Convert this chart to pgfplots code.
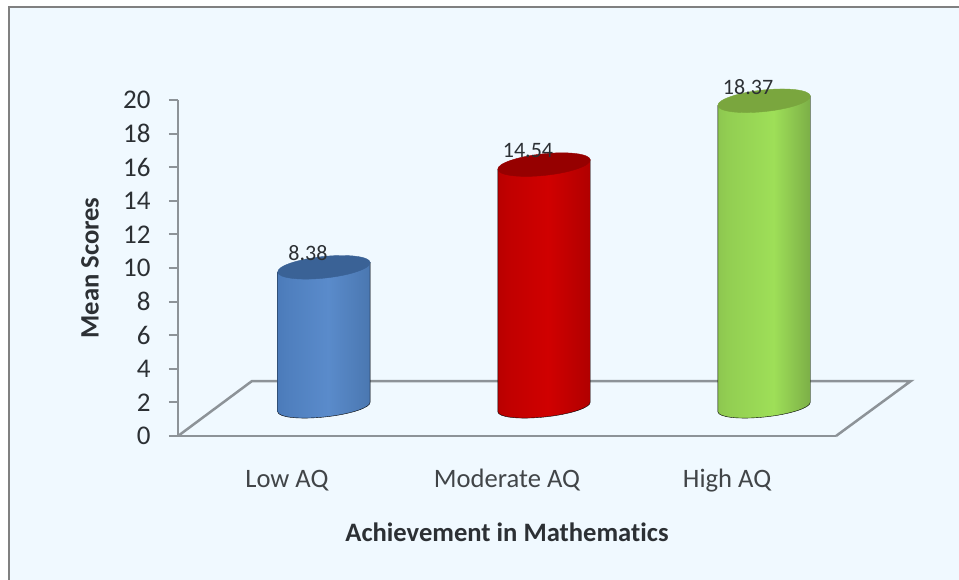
\documentclass[border=0pt]{standalone}
\usepackage{pgfplots}
\usepackage{fontspec}
\setmainfont[Ligatures=NoCommon]{Carlito}
\pgfplotsset{compat=1.18}
\definecolor{bgblue}{HTML}{F0F9FF}
\definecolor{axgray}{HTML}{8D9398}
\definecolor{txt}{HTML}{2C3034}
\definecolor{ba}{HTML}{355E95}\definecolor{bb}{HTML}{3F6DAA}\definecolor{bc}{HTML}{4F7FBE}\definecolor{bd}{HTML}{5A8BCB}\definecolor{be}{HTML}{4A77B0}\definecolor{bf}{HTML}{33598B}\definecolor{bg}{HTML}{294A76}\definecolor{bt}{HTML}{3A6296}
\definecolor{ra}{HTML}{800000}\definecolor{rb}{HTML}{A00000}\definecolor{rc}{HTML}{C00000}\definecolor{rd}{HTML}{D00000}\definecolor{re}{HTML}{B00000}\definecolor{rf}{HTML}{880000}\definecolor{rg}{HTML}{720000}\definecolor{rt}{HTML}{960000}
\definecolor{ga}{HTML}{66913A}\definecolor{gb}{HTML}{7FAF49}\definecolor{gc}{HTML}{92CE52}\definecolor{gd}{HTML}{9EDF58}\definecolor{ge}{HTML}{7AAC46}\definecolor{gf}{HTML}{5A8234}\definecolor{gg}{HTML}{4F7230}\definecolor{gt}{HTML}{7AA63E}
\pgfdeclarehorizontalshading{cylblue}{100bp}{color(0bp)=(ba);color(8bp)=(bb);color(30bp)=(bc);color(52bp)=(bd);color(75bp)=(be);color(92bp)=(bf);color(100bp)=(bg)}
\pgfdeclarehorizontalshading{cylred}{100bp}{color(0bp)=(ra);color(10bp)=(rb);color(30bp)=(rc);color(52bp)=(rd);color(75bp)=(re);color(92bp)=(rf);color(100bp)=(rg)}
\pgfdeclarehorizontalshading{cylgreen}{100bp}{color(0bp)=(ga);color(10bp)=(gb);color(30bp)=(gc);color(55bp)=(gd);color(76bp)=(ge);color(92bp)=(gf);color(100bp)=(gg)}
\newcommand\cylbody[2]{%
  \pgfmathsetlengthmacro{\cylH}{\barv*16.67}%
  \shade[shading=#1]
    (-46.2pt,-4.9pt) -- ({-46.2pt},{-\cylH-4.9pt})
    .. controls ({-45.6pt},{-\cylH-10.4pt}) and ({-24.5pt},{-\cylH-12.65pt}) .. ({1.05pt},{-\cylH-9.95pt})
    .. controls ({26.55pt},{-\cylH-7.25pt}) and ({46.8pt},{-\cylH-0.6pt}) .. ({46.2pt},{-\cylH+4.9pt})
    -- (46.2pt,4.9pt) -- cycle;
  \fill[#2] (0pt,0pt) ellipse [x radius=46.5pt, y radius=10.8pt, rotate=6];
}
\pgfdeclareplotmark{cylbluemark}{\cylbody{cylblue}{bt}}
\pgfdeclareplotmark{cylredmark}{\cylbody{cylred}{rt}}
\pgfdeclareplotmark{cylgreenmark}{\cylbody{cylgreen}{gt}}
\newcommand\chartfont{\fontsize{26.6}{30}\selectfont}
\begin{document}
\begin{tikzpicture}[x=1pt,y=1pt]
\path[use as bounding box] (0,0) rectangle (959,580);
\fill[white] (0,0) rectangle (959,580);
\fill[bgblue] (9,0) rectangle (959,573);
\draw[gray,line width=2.5pt] (9,0) -- (9,573) -- (959,573);
\begin{axis}[
  at={(178pt,144pt)}, anchor=south west, scale only axis,
  width=658pt, height=336pt,
  xmin=-0.495, xmax=2.495, ymin=0, ymax=20,
  clip=false,
  axis y line=left, axis x line=bottom,
  axis line style={-, draw=axgray, line width=2.5pt},
  xtick={0,1,2}, xticklabels={Low AQ,Moderate AQ,High AQ},
  ytick={0,2,...,20},
  tick align=outside, major tick length=9pt,
  y tick style={draw=axgray, line width=2pt},
  x tick style={draw=none},
  /pgf/number format/assume math mode=true,
  yticklabel style={font=\fontsize{27}{30}\selectfont, text=txt, xshift=-15pt},
  xticklabel style={font=\chartfont, text=txt!90, text height=18pt, text depth=6pt, yshift=-21pt},
  xlabel={\textbf{Achievement in Mathematics}},
  ylabel={\textbf{Mean Scores}},
  xlabel style={font=\chartfont, text=txt, at={(axis description cs:0.5,0)}, anchor=center, yshift=-96pt},
  ylabel style={font=\chartfont, text=txt, at={(axis description cs:0,0.5)}, anchor=center, yshift=88pt},
]
\addplot[draw=axgray, line width=2.5pt, line join=miter] coordinates {(-0.495,0) (-0.159,3.27) (2.835,3.27) (2.495,0)};
\end{axis}
\begin{axis}[
  at={(215pt,173pt)}, anchor=south west, scale only axis,
  width=658pt, height=333.4pt,
  xmin=-0.495, xmax=2.495, ymin=0, ymax=20,
  clip=false, hide axis,
  point meta=y,
  /pgf/number format/assume math mode=true,
  nodes near coords,
  every node near coord/.style={font=\fontsize{22}{26}\selectfont, text=txt, anchor=center, xshift=-16pt, yshift=14pt},
]
\addplot[scatter, only marks, mark=cylbluemark, visualization depends on={value \thisrow{v} \as \barv}] table[x=c,y=v,row sep=\\] {c v\\ 0 8.38\\};
\addplot[scatter, only marks, mark=cylredmark, visualization depends on={value \thisrow{v} \as \barv}] table[x=c,y=v,row sep=\\] {c v\\ 1 14.54\\};
\addplot[scatter, only marks, mark=cylgreenmark, visualization depends on={value \thisrow{v} \as \barv}] table[x=c,y=v,row sep=\\] {c v\\ 2 18.37\\};
\end{axis}
\end{tikzpicture}
\end{document}
